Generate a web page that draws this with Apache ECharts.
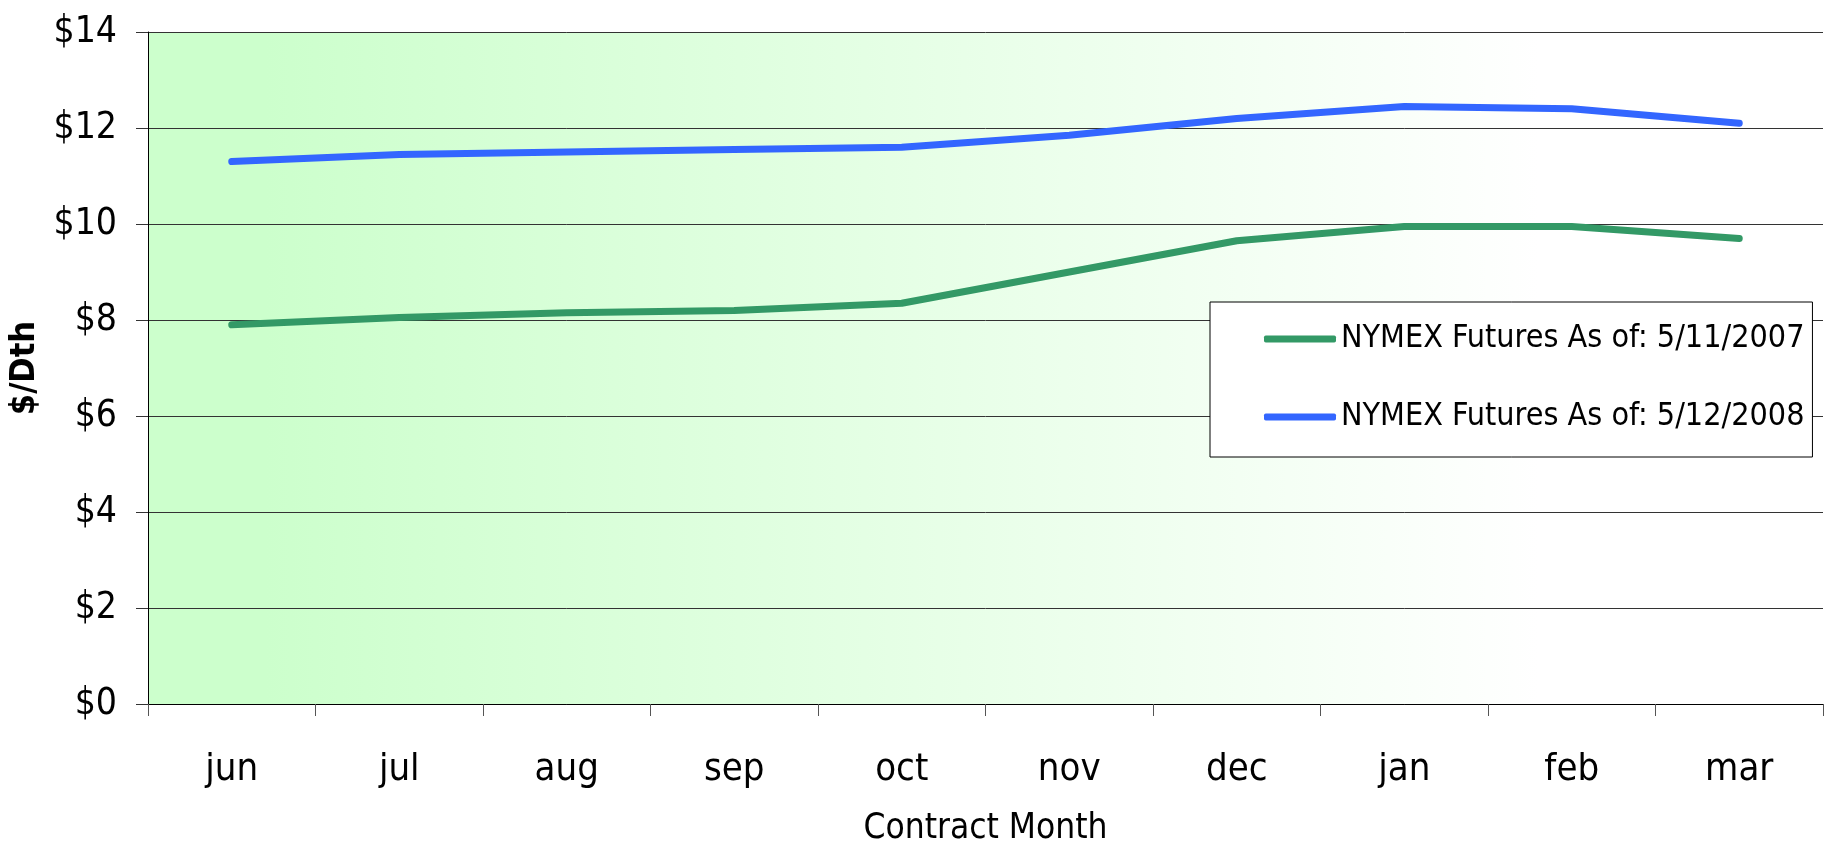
<!DOCTYPE html>
<html>
<head>
<meta charset="utf-8">
<script src="https://cdn.jsdelivr.net/npm/echarts@6/dist/echarts.min.js"></script>
<style>
html,body{margin:0;padding:0;background:#fff;}
#chart{width:1845px;height:841px;}
</style>
</head>
<body>
<div id="chart"></div>
<script>
const categories = ['jun','jul','aug','sep','oct','nov','dec','jan','feb','mar'];
const series2007 = [7.9, 8.05, 8.15, 8.2, 8.35, 9.0, 9.65, 9.95, 9.95, 9.7];
const series2008 = [11.3, 11.45, 11.5, 11.55, 11.6, 11.85, 12.2, 12.45, 12.4, 12.1];
const name2007 = 'NYMEX Futures As of: 5/11/2007';
const name2008 = 'NYMEX Futures As of: 5/12/2008';
const yTicks = { min: 0, max: 14, interval: 2 };

const FONT = '"DejaVu Sans Condensed", "DejaVu Sans", sans-serif';
const chart = echarts.init(document.getElementById('chart'), null, {renderer:'canvas'});
chart.setOption({
  animation: false,
  backgroundColor: '#ffffff',
  grid: {
    left: 148, right: 22, top: 32, bottom: 137,
    containLabel: false,
    outerBoundsMode: 'none',
    show: true, borderWidth: 0,
    backgroundColor: {
      type: 'linear', x: 0, y: 0, x2: 1, y2: 0,
      colorStops: [
        {offset: 0, color: '#ccffcc'},
        {offset: 0.07, color: '#ccffcc'},
        {offset: 0.83, color: '#ffffff'},
        {offset: 1, color: '#ffffff'}
      ]
    }
  },
  legend: {
    orient: 'vertical',
    left: 1210, top: 302,
    padding: [21, 8, 24, 54],
    itemGap: 46,
    itemWidth: 72, itemHeight: 7,
    icon: 'roundRect',
    backgroundColor: '#ffffff',
    borderColor: '#000000', borderWidth: 1, borderRadius: 0,
    textStyle: { fontFamily: FONT, fontSize: 32, color: '#000', lineHeight: 30 },
    data: [name2007, name2008]
  },
  xAxis: {
    type: 'category',
    data: categories,
    boundaryGap: true,
    axisLine: { show: true, lineStyle: { color: '#000', width: 1 } },
    axisTick: { show: true, length: 12, lineStyle: { color: '#555', width: 1 } },
    axisLabel: { fontFamily: FONT, fontSize: 38, color: '#000', margin: 47 },
    splitLine: { show: false },
    name: 'Contract Month',
    nameLocation: 'middle',
    nameGap: 107,
    nameTextStyle: { fontFamily: FONT, fontSize: 35, color: '#000' }
  },
  yAxis: {
    type: 'value',
    min: yTicks.min, max: yTicks.max, interval: yTicks.interval,
    axisLine: { show: true, lineStyle: { color: '#000', width: 1 } },
    axisTick: { show: true, length: 12, lineStyle: { color: '#333', width: 1 } },
    axisLabel: { fontFamily: FONT, fontSize: 37, color: '#000', margin: 31, formatter: v => '$' + v },
    splitLine: { show: true, lineStyle: { color: '#333', width: 1 } },
    name: '$/Dth',
    nameLocation: 'middle',
    nameRotate: 90,
    nameGap: 104,
    nameTextStyle: { fontFamily: FONT, fontSize: 34, fontWeight: 'bold', color: '#000' }
  },
  series: [
    {
      name: name2007, type: 'line', data: series2007,
      showSymbol: false, symbol: 'none',
      lineStyle: { color: '#339966', width: 7, cap: 'round', join: 'round' },
      itemStyle: { color: '#339966' }
    },
    {
      name: name2008, type: 'line', data: series2008,
      showSymbol: false, symbol: 'none',
      lineStyle: { color: '#3366ff', width: 7, cap: 'round', join: 'round' },
      itemStyle: { color: '#3366ff' }
    }
  ]
});
</script>
</body>
</html>
